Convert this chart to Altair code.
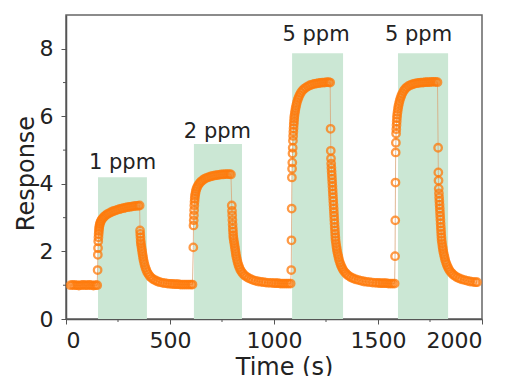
import altair as alt
import pandas as pd

# Sensor response vs. time, sampled densely around each switching event
baseline0 = [(22, 1.0), (32, 1.01), (42, 1.0), (52, 1.0), (62, 0.99), (72, 1.0), (82, 1.01),
             (92, 1.0), (102, 1.0), (112, 1.01), (122, 1.0), (132, 0.99), (142, 1.0), (150, 1.0)]

cycle_1ppm = [(152, 1.45), (153, 1.9), (154, 2.1), (155, 2.3), (156, 2.42), (157, 2.52), (158, 2.6),
              (159, 2.67), (160, 2.73), (162, 2.79), (164, 2.84), (167, 2.89), (171, 2.94), (176, 2.98),
              (182, 3.02), (189, 3.06), (197, 3.1), (206, 3.13), (216, 3.16), (226, 3.19), (236, 3.21),
              (246, 3.23), (256, 3.25), (266, 3.27), (276, 3.28), (286, 3.3), (296, 3.31), (306, 3.32),
              (316, 3.33), (326, 3.34), (336, 3.35), (346, 3.35), (354, 3.36),
              (356, 2.62), (357, 2.52), (358, 2.42), (359, 2.32), (360, 2.24), (362, 2.16), (364, 2.08),
              (366, 2.0), (368, 1.92), (370, 1.84), (372, 1.76), (375, 1.68), (378, 1.6), (382, 1.52),
              (386, 1.45), (391, 1.38), (397, 1.32), (404, 1.26), (412, 1.21), (421, 1.17), (431, 1.14),
              (441, 1.11), (452, 1.09), (464, 1.07), (476, 1.06), (488, 1.05), (500, 1.04), (510, 1.04),
              (520, 1.03), (530, 1.03), (540, 1.03), (550, 1.02), (560, 1.02), (570, 1.02), (580, 1.02),
              (590, 1.02), (600, 1.02), (608, 1.02)]

cycle_2ppm = [(612, 2.12), (613, 2.77), (614, 2.92), (615, 3.07), (616, 3.22), (617, 3.36), (618, 3.47),
              (619, 3.56), (620, 3.64), (622, 3.71), (624, 3.78), (627, 3.85), (631, 3.91), (636, 3.97),
              (642, 4.02), (649, 4.07), (657, 4.11), (666, 4.15), (676, 4.18), (686, 4.2), (696, 4.22),
              (706, 4.24), (716, 4.25), (726, 4.26), (736, 4.27), (746, 4.28), (756, 4.28), (766, 4.29),
              (776, 4.29), (786, 4.29), (793, 4.28),
              (797, 3.36), (798, 3.2), (799, 3.07), (800, 2.93), (801, 2.8), (802, 2.68), (803, 2.58),
              (804, 2.48), (805, 2.4), (807, 2.32), (809, 2.24), (811, 2.16), (813, 2.08), (815, 2.0),
              (817, 1.92), (819, 1.84), (822, 1.76), (825, 1.68), (829, 1.6), (833, 1.53), (838, 1.46),
              (844, 1.4), (851, 1.34), (859, 1.29), (868, 1.25), (878, 1.21), (889, 1.18), (900, 1.15),
              (912, 1.13), (925, 1.11), (938, 1.1), (950, 1.09), (962, 1.08), (975, 1.07), (988, 1.07),
              (1000, 1.06), (1010, 1.06), (1020, 1.06), (1030, 1.05), (1040, 1.05), (1050, 1.05),
              (1060, 1.05), (1070, 1.05), (1080, 1.05)]

cycle_5ppm_a = [(1083, 1.45), (1084, 2.33), (1085, 3.27), (1086, 4.19), (1087, 4.45), (1088, 4.63),
                (1089, 4.9), (1090, 5.07), (1091, 5.28), (1092, 5.42), (1093, 5.54), (1094, 5.65),
                (1095, 5.75), (1096, 5.84), (1097, 5.93), (1098, 6.01), (1100, 6.09), (1102, 6.17),
                (1104, 6.25), (1107, 6.33), (1110, 6.41), (1114, 6.49), (1118, 6.56), (1123, 6.63),
                (1129, 6.7), (1136, 6.76), (1144, 6.81), (1153, 6.85), (1163, 6.89), (1173, 6.92),
                (1183, 6.94), (1193, 6.96), (1203, 6.97), (1213, 6.98), (1223, 6.99), (1233, 7.0),
                (1243, 7.0), (1253, 7.01), (1263, 7.01), (1270, 7.0),
                (1272, 5.63), (1273, 4.98), (1274, 4.75), (1275, 4.6), (1276, 4.48), (1277, 4.37),
                (1278, 4.26), (1279, 4.15), (1280, 4.04), (1281, 3.93), (1282, 3.82), (1283, 3.71),
                (1284, 3.6), (1285, 3.49), (1286, 3.38), (1287, 3.27), (1288, 3.16), (1289, 3.05),
                (1290, 2.94), (1291, 2.83), (1292, 2.72), (1293, 2.62), (1294, 2.52), (1295, 2.42),
                (1296, 2.33), (1298, 2.24), (1300, 2.15), (1302, 2.07), (1304, 1.99), (1307, 1.91),
                (1310, 1.83), (1313, 1.75), (1317, 1.67), (1321, 1.6), (1326, 1.53), (1331, 1.47),
                (1337, 1.41), (1344, 1.36), (1352, 1.31), (1361, 1.27), (1371, 1.23), (1382, 1.2),
                (1394, 1.17), (1407, 1.15), (1420, 1.13), (1433, 1.11), (1446, 1.1), (1460, 1.09),
                (1474, 1.08), (1488, 1.07), (1500, 1.07), (1510, 1.06), (1520, 1.06), (1530, 1.06),
                (1540, 1.06), (1550, 1.05), (1560, 1.05), (1570, 1.05), (1580, 1.05)]

cycle_5ppm_b = [(1582, 1.86), (1583, 2.92), (1584, 4.04), (1585, 4.93), (1586, 5.22), (1587, 5.49),
                (1588, 5.62), (1589, 5.74), (1590, 5.85), (1591, 5.95), (1592, 6.04), (1594, 6.13),
                (1596, 6.22), (1598, 6.3), (1601, 6.38), (1604, 6.46), (1608, 6.54), (1612, 6.61),
                (1617, 6.68), (1623, 6.75), (1630, 6.81), (1638, 6.86), (1647, 6.9), (1657, 6.93),
                (1667, 6.95), (1677, 6.97), (1687, 6.98), (1697, 6.99), (1707, 7.0), (1717, 7.0),
                (1727, 7.01), (1737, 7.01), (1747, 7.01), (1757, 7.02), (1767, 7.02), (1777, 7.02),
                (1786, 7.01),
                (1789, 5.07), (1790, 4.34), (1791, 4.1), (1792, 3.86), (1793, 3.72), (1794, 3.6),
                (1795, 3.49), (1796, 3.38), (1797, 3.27), (1798, 3.16), (1799, 3.05), (1800, 2.94),
                (1801, 2.83), (1802, 2.72), (1803, 2.62), (1804, 2.52), (1805, 2.42), (1806, 2.33),
                (1808, 2.24), (1810, 2.15), (1812, 2.07), (1814, 1.99), (1817, 1.91), (1820, 1.83),
                (1823, 1.75), (1827, 1.67), (1831, 1.6), (1836, 1.53), (1841, 1.47), (1847, 1.41),
                (1854, 1.36), (1862, 1.31), (1871, 1.27), (1881, 1.23), (1892, 1.2), (1904, 1.17),
                (1917, 1.15), (1930, 1.13), (1943, 1.11), (1956, 1.1), (1968, 1.09), (1976, 1.09)]

# Gas exposure windows
gas_on = [154, 615, 1087, 1596]
gas_off = [389, 846, 1332, 1837]
gas_top = [4.2, 5.18, 7.87, 7.87]

# Concentration labels
label_text = ["1 ppm", "2 ppm", "5 ppm", "5 ppm"]
label_time = [272, 728, 1202, 1695]
label_resp = [4.45, 5.37, 8.23, 8.23]

x_ticks = [0, 500, 1000, 1500, 2000]
y_ticks = [0, 2, 4, 6, 8]
x_minor = [250, 750, 1250, 1750]
y_minor = [1, 3, 5, 7]

FONT = "DejaVu Sans"
ORANGE = "#ff7a0a"

series = baseline0 + cycle_1ppm + cycle_2ppm + cycle_5ppm_a + cycle_5ppm_b
df = pd.DataFrame(series, columns=["time", "response"])
bands = pd.DataFrame({"start": gas_on, "end": gas_off, "top": gas_top})
labels = pd.DataFrame({"text": label_text, "time": label_time, "resp": label_resp})

x_scale = alt.Scale(domain=[0, 2000], nice=False)
y_scale = alt.Scale(domain=[0, 9], nice=False)

x_axis = alt.Axis(values=x_ticks, format="d", title="Time (s)", labelFontSize=22, titleFontSize=24,
                  labelPadding=6, tickSize=5, titleX=218, titleY=55,
                  titleAlign="center", titleBaseline="alphabetic")
y_axis = alt.Axis(values=y_ticks, format="d", title="Response", labelFontSize=22, titleFontSize=24,
                  labelPadding=8, tickSize=5, titleX=-33, titleY=158, titleAngle=270,
                  titleAlign="center", titleBaseline="alphabetic")

shade = alt.Chart(bands).mark_rect(color="#cbe7d4").encode(
    x=alt.X("start:Q", scale=x_scale, axis=x_axis),
    x2="end:Q",
    y=alt.Y("top:Q", scale=y_scale, axis=y_axis),
    y2=alt.datum(0),
)

trace = alt.Chart(df).mark_line(color="#d9a679", strokeWidth=0.8).encode(
    x=alt.X("time:Q", scale=x_scale),
    y=alt.Y("response:Q", scale=y_scale),
    order="time:Q",
)

dots = alt.Chart(df).mark_point(shape="circle", filled=False, size=56, strokeWidth=2.3,
                                color=ORANGE, opacity=0.75).encode(
    x=alt.X("time:Q", scale=x_scale),
    y=alt.Y("response:Q", scale=y_scale),
)

notes = alt.Chart(labels).mark_text(font=FONT, fontSize=21, color="#222222",
                                    align="center", baseline="alphabetic").encode(
    x=alt.X("time:Q", scale=x_scale),
    y=alt.Y("resp:Q", scale=y_scale),
    text="text:N",
)

minor_x = alt.Chart(pd.DataFrame({"v": x_minor})).mark_rule(color="#555555", strokeWidth=1).encode(
    x=alt.X("v:Q", scale=x_scale),
    y=alt.value(304),
    y2=alt.value(307),
)
minor_y = alt.Chart(pd.DataFrame({"v": y_minor})).mark_rule(color="#555555", strokeWidth=1).encode(
    y=alt.Y("v:Q", scale=y_scale),
    x=alt.value(0),
    x2=alt.value(-3),
)

chart = (
    alt.layer(shade, trace, dots, notes, minor_x, minor_y)
    .properties(width=416, height=304, autosize=alt.AutoSizeParams(type="none"),
                padding={"left": 66, "top": 15, "right": 30, "bottom": 57},
                background="white")
    .configure_view(stroke="#666666", strokeWidth=1.5)
    .configure_axis(grid=False, domainColor="#555555", domainWidth=1.5, tickColor="#555555",
                    tickWidth=1, labelFont=FONT, titleFont=FONT, labelColor="#222222",
                    titleColor="#222222", titleFontWeight="normal")
)

chart.save("out.html", embed_options={"renderer": "svg", "actions": False})
